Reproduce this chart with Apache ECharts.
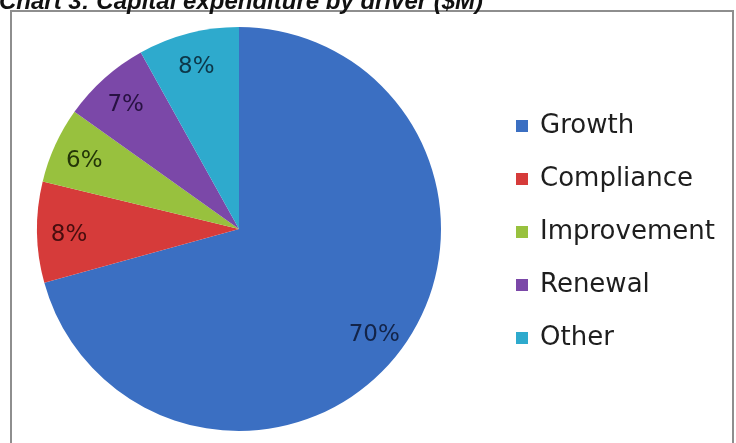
<!DOCTYPE html>
<html>
<head>
<meta charset="utf-8">
<script src="https://cdn.jsdelivr.net/npm/echarts@6/dist/echarts.min.js"></script>
<style>
  html, body { margin: 0; padding: 0; background: #ffffff; }
  #chart { width: 736px; height: 443px; }
</style>
</head>
<body>
<div id="chart"></div>
<script>
// Capital expenditure split by driver (per cent of total)
const categories = ['Growth', 'Compliance', 'Improvement', 'Renewal', 'Other'];
const shares = [70, 8, 6, 7, 8];
const chartTitle = 'Chart 3: Capital expenditure by driver ($M)';

// Slice fills and the darker tone used for each slice's percentage label
const sliceColors = ['#3b6fc2', '#d63b3a', '#98c13e', '#7b48a8', '#2eaacd'];
const labelColors = ['#132449', '#470d0e', '#243608', '#281142', '#0d3749'];

const pieData = categories.map((name, i) => ({ name, value: shares[i] }));

const chart = echarts.init(document.getElementById('chart'), null, { renderer: 'canvas' });

chart.setOption({
  animation: false,
  color: sliceColors,
  title: {
    text: chartTitle,
    left: -1,
    top: -10,
    padding: 0,
    textStyle: {
      fontFamily: 'Liberation Sans',
      fontStyle: 'italic',
      fontWeight: 'bold',
      fontSize: 24,
      color: '#111111'
    }
  },
  graphic: [{
    type: 'rect',
    z: -1,
    shape: { x: 11, y: 11, width: 722, height: 445 },
    style: { fill: '#ffffff', stroke: '#8e8e8e', lineWidth: 2 }
  }],
  legend: {
    orient: 'vertical',
    left: 516,
    top: 113,
    padding: 0,
    itemWidth: 12,
    itemHeight: 12,
    itemGap: 27,
    icon: 'rect',
    data: categories,
    textStyle: {
      fontFamily: 'DejaVu Sans',
      fontSize: 26,
      color: '#1e1e1e',
      padding: [0, 0, 0, 7]
    }
  },
  series: [
    {
      // the slices themselves
      type: 'pie',
      center: [239, 229],
      radius: [0, 202],
      startAngle: 90,
      clockwise: true,
      silent: true,
      data: pieData,
      itemStyle: { borderWidth: 0 },
      label: { show: false },
      labelLine: { show: false }
    },
    {
      // transparent outer ring carrying the percentage labels near the rim
      type: 'pie',
      center: [239, 232],
      radius: [132, 202],
      startAngle: 90,
      clockwise: true,
      silent: true,
      data: pieData.map((d, i) => ({
        name: d.name,
        value: d.value,
        label: { color: labelColors[i] }
      })),
      itemStyle: { color: 'rgba(0,0,0,0)', borderWidth: 0 },
      label: {
        show: true,
        position: 'inside',
        formatter: '{c}%',
        fontFamily: 'DejaVu Sans',
        fontSize: 23
      },
      labelLine: { show: false }
    }
  ]
});
</script>
</body>
</html>
